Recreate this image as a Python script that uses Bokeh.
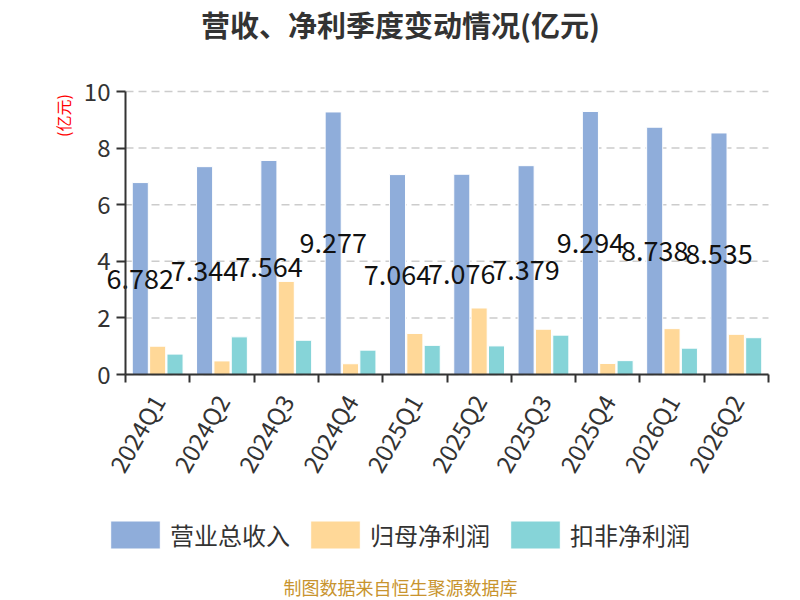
import math
from bokeh.plotting import figure
from bokeh.models import (Range1d, FixedTicker, Legend, LegendItem, Label,
                          ColumnDataSource)
from bokeh.core.properties import value
from bokeh.embed import file_html
from bokeh.resources import INLINE

# ---- data ----
quarters = ["2024Q1", "2024Q2", "2024Q3", "2024Q4", "2025Q1",
            "2025Q2", "2025Q3", "2025Q4", "2026Q1", "2026Q2"]
revenue = [6.782, 7.344, 7.564, 9.277, 7.064, 7.076, 7.379, 9.294, 8.738, 8.535]
net_profit = [1.00, 0.48, 3.29, 0.38, 1.45, 2.35, 1.60, 0.39, 1.62, 1.42]
deducted_profit = [0.72, 1.33, 1.21, 0.86, 1.03, 1.01, 1.39, 0.49, 0.93, 1.30]
series_names = ["营业总收入", "归母净利润", "扣非净利润"]
y_ticks = [0, 2, 4, 6, 8, 10]

title_text = "营收、净利季度变动情况(亿元)"
unit_text = "(亿元)"
source_text = "制图数据来自恒生聚源数据库"

colors = ["#8FADDA", "#FFD898", "#86D4D8"]
FONT = "Noto Sans CJK SC"

W, H = 800, 600
AXL, AXR, AXT, AXB = 125, 768, 91, 374   # plotting area on the page
n = len(quarters)
ux = (AXR - AXL) / n          # px per category
uy = (AXB - AXT) / 10.0       # px per y unit
x_start = -0.5 - AXL / ux
x_end = n - 0.5 + (W - AXR) / ux
y_end = 10 + AXT / uy
y_start = -(H - AXB) / uy


def dx(px):
    return x_start + px / ux


def dy(py):
    return y_end - py / uy


p = figure(width=W, height=H, output_backend="svg", toolbar_location=None,
           title=None,
           x_range=Range1d(x_start, x_end), y_range=Range1d(y_start, y_end),
           min_border=0)
p.outline_line_color = None
p.background_fill_color = "white"
p.border_fill_color = "white"

xs = list(range(n))

# dashed grid lines across the category span only
p.segment(x0=[-0.5] * len(y_ticks), x1=[n - 0.5] * len(y_ticks),
          y0=y_ticks, y1=y_ticks, line_color="#cccccc", line_width=1.5,
          line_dash="8 5")

offs = [-0.27, 0.0, 0.27]
bw = 0.25
renderers = []
for vals, off, col in zip([revenue, net_profit, deducted_profit], offs, colors):
    src = ColumnDataSource(dict(x=[x + off for x in xs], top=vals))
    r = p.vbar(x="x", top="top", width=bw, source=src, fill_color=col,
               line_color="white", line_width=1)
    renderers.append(r)

# value labels for revenue
lab_src = ColumnDataSource(dict(x=[x + offs[0] for x in xs],
                                y=[v / 2 for v in revenue],
                                t=[f"{v:.3f}" for v in revenue]))
p.text(x="x", y="y", text="t", source=lab_src, text_align="center",
       text_baseline="middle", text_font=value(FONT),
       text_font_size="27px", text_color="#111111")

# axes
xa = p.xaxis[0]
xa.fixed_location = 0
xa.bounds = (-0.5, n - 0.5)
xa.ticker = FixedTicker(ticks=xs, minor_ticks=[x - 0.5 for x in xs] + [n - 0.5])
xa.major_label_overrides = {x: q for x, q in zip(xs, quarters)}
xa.major_tick_line_color = None
xa.major_tick_out = 0
xa.major_tick_in = 0
xa.minor_tick_line_color = "#333333"
xa.minor_tick_line_width = 2
xa.minor_tick_out = 8
xa.minor_tick_in = 0
xa.axis_line_color = "#333333"
xa.axis_line_width = 2
xa.major_label_orientation = math.pi / 3
xa.major_label_text_font = FONT
xa.major_label_text_font_size = "24px"
xa.major_label_text_color = "#333333"
xa.major_label_standoff = 14

ya = p.yaxis[0]
ya.fixed_location = -0.5
ya.bounds = (0, 10)
ya.ticker = FixedTicker(ticks=y_ticks)
ya.minor_tick_line_color = None
ya.major_tick_out = 9
ya.major_tick_in = 0
ya.major_tick_line_color = "#333333"
ya.major_tick_line_width = 2
ya.axis_line_color = "#333333"
ya.axis_line_width = 2
ya.major_label_text_font = FONT
ya.major_label_text_font_size = "24px"
ya.major_label_text_color = "#333333"
ya.major_label_standoff = 6

p.xgrid.visible = False
p.ygrid.visible = False

# texts
p.add_layout(Label(x=dx(400), y=dy(23), text=title_text, text_align="center",
                   text_baseline="middle", text_font=FONT,
                   text_font_size="29px", text_font_style="bold",
                   text_color="#333333"))
p.add_layout(Label(x=dx(62), y=dy(115), text=unit_text, text_align="center",
                   text_baseline="middle", angle=math.pi / 2, text_font=FONT,
                   text_font_size="16px", text_color="#ff0000"))
p.add_layout(Label(x=dx(400), y=dy(586), text=source_text, text_align="center",
                   text_baseline="middle", text_font=FONT,
                   text_font_size="18px", text_color="#C8942E"))

legend = Legend(items=[LegendItem(label=nm, renderers=[r])
                       for nm, r in zip(series_names, renderers)],
                orientation="horizontal", location=(104, 600 - 552))
legend.glyph_width = 62
legend.glyph_height = 35
legend.label_standoff = 4
legend.spacing = 14
legend.padding = 0
legend.margin = 0
legend.border_line_color = None
legend.background_fill_alpha = 0
legend.label_text_font = FONT
legend.label_text_font_size = "24px"
legend.label_text_color = "#333333"
p.add_layout(legend, "center")

open("out.html", "w").write(file_html(p, INLINE))
